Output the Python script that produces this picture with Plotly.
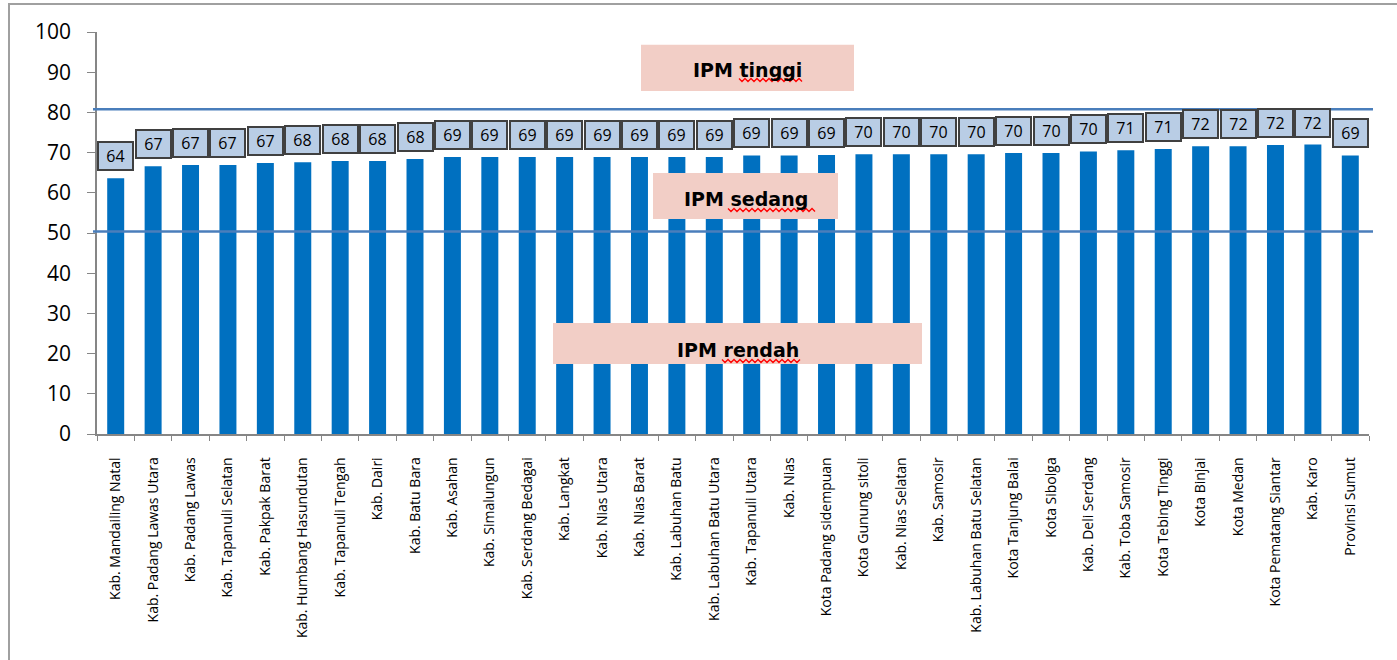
import plotly.graph_objects as go

# kabupaten / kota in Sumatera Utara, sorted by IPM
wilayah = [
    "Kab. Mandailing Natal", "Kab. Padang Lawas Utara", "Kab. Padang Lawas",
    "Kab. Tapanuli Selatan", "Kab. Pakpak Barat", "Kab. Humbang Hasundutan",
    "Kab. Tapanuli Tengah", "Kab. Dairi", "Kab. Batu Bara", "Kab. Asahan",
    "Kab. Simalungun", "Kab. Serdang Bedagai", "Kab. Langkat", "Kab. Nias Utara",
    "Kab. Nias Barat", "Kab. Labuhan Batu", "Kab. Labuhan Batu Utara",
    "Kab. Tapanuli Utara", "Kab. Nias", "Kota Padang sidempuan",
    "Kota Gunung sitoli", "Kab. Nias Selatan", "Kab. Samosir",
    "Kab. Labuhan Batu Selatan", "Kota Tanjung Balai", "Kota Sibolga",
    "Kab. Deli Serdang", "Kab. Toba Samosir", "Kota Tebing Tinggi",
    "Kota Binjai", "Kota Medan", "Kota Pematang Siantar", "Kab. Karo",
    "Provinsi Sumut",
]
ipm = [
    63.6, 66.6, 66.9, 66.9, 67.4, 67.6, 67.9, 67.9, 68.4, 68.9,
    68.9, 68.9, 68.9, 68.9, 68.9, 68.9, 68.9, 69.3, 69.3, 69.4,
    69.6, 69.6, 69.6, 69.6, 69.9, 69.9, 70.3, 70.6, 70.9, 71.6,
    71.6, 71.9, 72.0, 69.3,
]

# batas kategori IPM (garis) dan label kelompok
batas = [80.8, 50.4]
kelompok = ["IPM tinggi", "IPM sedang", "IPM rendah"]
kotak_y = [(85.3, 96.8), (53.5, 64.9), (17.4, 27.6)]
kotak_px = [(641, 854), (653, 838), (553, 922)]
teks_y = [90.6, 58.4, 20.9]
squiggle_px = [(739, 802, 80), (728, 816, 210), (722, 801, 361)]

W, H = 1397, 660
L, R, T, B = 97, 28, 32, 226


def px2x(px):
    return (px - L) / (W - L - R)


def py2y(py):
    return (H - B - py) / (H - B - T)


fig = go.Figure()
fig.add_trace(go.Bar(x=wilayah, y=ipm, marker_color="#0070C0", marker_line_width=0))

shapes = []
for yb in batas:
    shapes.append(dict(type="line", xref="paper", yref="y", x0=px2x(93), x1=px2x(1373),
                       y0=yb, y1=yb, line=dict(color="#4A7EBB", width=2.5)))

annotations = []
for name, (y0, y1), (xa, xb), ty in zip(kelompok, kotak_y, kotak_px, teks_y):
    shapes.append(dict(type="rect", xref="paper", yref="y", x0=px2x(xa), x1=px2x(xb),
                       y0=y0, y1=y1, fillcolor="#F2CEC6", line_width=0, layer="above"))
    annotations.append(dict(x=px2x((xa + xb) / 2), y=ty, xref="paper", yref="y",
                            text="<b>" + name + "</b>", showarrow=False,
                            font=dict(family="DejaVu Sans", size=19, color="black")))

# red spell-check squiggles
for xa, xb, py in squiggle_px:
    pts = []
    k = 0
    x = xa
    while x <= xb:
        yy = py + (1.5 if k % 2 else -1.5)
        pts.append(f"{px2x(x):.5f},{py2y(yy):.5f}")
        x += 3
        k += 1
    shapes.append(dict(type="path", xref="paper", yref="paper", path="M" + " L".join(pts),
                       line=dict(color="#FF0000", width=1.3), layer="above"))

# outer chart frame
shapes.append(dict(type="rect", xref="paper", yref="paper", x0=px2x(9), x1=px2x(1402),
                   y0=py2y(664), y1=py2y(4), line=dict(color="#A0A0A0", width=2)))

# data labels in boxes
for w, v in zip(wilayah, ipm):
    annotations.append(dict(x=w, y=v, xref="x", yref="y", text=f"{v:.0f}", showarrow=False,
                            yanchor="bottom", yshift=7, width=33, height=26,
                            bgcolor="#B9CDE5", bordercolor="#404040", borderwidth=2, borderpad=0,
                            font=dict(family="Open Sans", size=16, color="black")))

fig.update_layout(
    width=W, height=H,
    margin=dict(l=L, r=R, t=T, b=B),
    plot_bgcolor="white", paper_bgcolor="white",
    bargap=0.546, showlegend=False,
    shapes=shapes, annotations=annotations,
    xaxis=dict(tickangle=-90, tickfont=dict(family="Open Sans", size=14, color="black"),
               showline=True, linecolor="#868686", linewidth=1.5,
               ticks="outside", tickson="boundaries", ticklen=5, tickcolor="#868686",
               ticklabelstandoff=16, showgrid=False),
    yaxis=dict(range=[0, 100], dtick=10, showgrid=False, zeroline=False,
               showline=True, linecolor="#868686", linewidth=1.5,
               ticks="outside", ticklen=8, tickcolor="#868686",
               ticklabelstandoff=12,
               tickfont=dict(family="Open Sans", size=21, color="black")),
)

fig.write_html("out.html", config={"displayModeBar": False},
               post_script="document.body.style.margin='0';")
